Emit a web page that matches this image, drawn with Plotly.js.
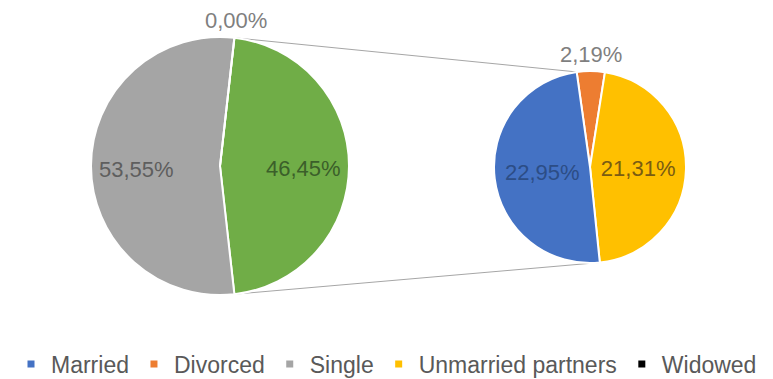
<!DOCTYPE html>
<html>
<head>
<meta charset="utf-8">
<script src="https://cdn.plot.ly/plotly-3.0.1.min.js"></script>
<style>html,body{margin:0;padding:0;background:#fff;}#chart{width:773px;height:379px;}</style>
</head>
<body>
<div id="chart"></div>
<script>
// Data
const mainLabels = ['Other', 'Single', 'Widowed'];
const mainValues = [46.45, 53.55, 0.00];
const subLabels = ['Divorced', 'Unmarried partners', 'Married'];
const subValues = [2.19, 21.31, 22.95];
const legendLabels = ['Married', 'Divorced', 'Single', 'Unmarried partners', 'Widowed'];

// Styles
const colorOf = {
  'Married': '#4472C4', 'Divorced': '#ED7D31', 'Single': '#A5A5A5',
  'Unmarried partners': '#FFC000', 'Widowed': '#000000', 'Other': '#70AD47'
};
const textColorOf = {
  'Married': '#2c4d86', 'Divorced': '#7f7f7f', 'Single': '#5e5e5e',
  'Unmarried partners': '#7a5c12', 'Widowed': '#7f7f7f', 'Other': '#3b5f2a'
};
const FONT = 'Liberation Sans, Arial, sans-serif';
const W = 773, H = 379;
const L = {cx: 220, cy: 166, r: 129};
const R = {cx: 590, cy: 167, r: 96};
const fmt = v => v.toFixed(2).replace('.', ',') + '%';

const mainTotal = mainValues.reduce((a, b) => a + b, 0);
const subTotal = subValues.reduce((a, b) => a + b, 0);
const otherSpan = mainValues[0] / mainTotal * 360;
const rotL = 90 - otherSpan / 2;
const rotR = -8;

function domainOf(p) {
  return {
    x: [(p.cx - p.r) / W, (p.cx + p.r) / W],
    y: [1 - (p.cy + p.r) / H, 1 - (p.cy - p.r) / H]
  };
}
function pt(p, deg, rr) {
  const a = deg * Math.PI / 180;
  return [p.cx + rr * Math.sin(a), p.cy - rr * Math.cos(a)];
}
const toPaper = p => [p[0] / W, 1 - p[1] / H];

const traces = [];
traces.push({
  type: 'pie', labels: mainLabels, values: mainValues, sort: false,
  direction: 'clockwise', rotation: rotL, domain: domainOf(L),
  marker: {colors: mainLabels.map(l => colorOf[l]), line: {color: '#ffffff', width: 2}},
  textinfo: 'none', showlegend: false, hoverinfo: 'label+percent'
});
traces.push({
  type: 'pie', labels: subLabels, values: subValues, sort: false,
  direction: 'clockwise', rotation: rotR, domain: domainOf(R),
  marker: {colors: subLabels.map(l => colorOf[l]), line: {color: '#ffffff', width: 2}},
  text: subValues.map(fmt), textinfo: 'text',
  textposition: subValues.map(v => v / subTotal < 0.1 ? 'none' : 'inside'),
  insidetextorientation: 'horizontal',
  insidetextfont: {family: FONT, size: 22, color: subLabels.map(l => textColorOf[l])},
  showlegend: false, hoverinfo: 'label+text'
});
legendLabels.forEach(l => {
  traces.push({
    type: 'scatter', mode: 'markers', x: [null], y: [null], name: l,
    marker: {symbol: 'square', size: 7, color: colorOf[l]},
    showlegend: true, hoverinfo: 'skip'
  });
});

// connector lines from the "Other" slice to the second pie
const lTop = pt(L, rotL, L.r), lBot = pt(L, rotL + otherSpan, L.r);
const rTop = pt(R, rotR, R.r);
const rBot = pt(R, rotR + (subValues[0] + subValues[1]) / subTotal * 360, R.r);
const shapes = [[lTop, rTop], [lBot, rBot]].map(([a, b]) => {
  const pa = toPaper(a), pb = toPaper(b);
  return {type: 'line', xref: 'paper', yref: 'paper', x0: pa[0], y0: pa[1], x1: pb[0], y1: pb[1],
          line: {color: '#a6a6a6', width: 1}, layer: 'below'};
});

// data labels for the first pie and small slices (positioned along slice bisectors)
const annotations = [];
function addLabels(p, labels, values, total, rot, insideOnly) {
  let start = rot;
  values.forEach((v, i) => {
    const span = v / total * 360;
    const mid = start + span / 2;
    const small = span < 36;
    if (!(insideOnly && !small)) {
      const pos = small ? pt(p, mid, p.r + 17) : pt(p, mid, p.r * 0.65);
      const pp = toPaper([pos[0], pos[1] + (small ? 0 : 3)]);
      annotations.push({xref: 'paper', yref: 'paper', x: pp[0], y: pp[1], text: fmt(v),
        showarrow: false, xanchor: 'center', yanchor: 'middle',
        font: {family: FONT, size: 22, color: small ? '#7f7f7f' : textColorOf[labels[i]]}});
    }
    start += span;
  });
}
addLabels(L, mainLabels, mainValues, mainTotal, rotL, false);
addLabels(R, subLabels, subValues, subTotal, rotR, true);

const layout = {
  width: W, height: H,
  margin: {l: 0, r: 0, t: 0, b: 0, pad: 0, autoexpand: false},
  paper_bgcolor: '#ffffff', plot_bgcolor: '#ffffff',
  xaxis: {visible: false}, yaxis: {visible: false},
  showlegend: true,
  legend: {orientation: 'h', x: 0.5, xanchor: 'center', y: 1 - 364 / H, yanchor: 'middle',
           font: {family: FONT, size: 23, color: '#595959'},
           itemclick: false, itemdoubleclick: false},
  shapes: shapes, annotations: annotations,
  font: {family: FONT}
};
Plotly.newPlot('chart', traces, layout, {displayModeBar: false, staticPlot: true});
</script>
</body>
</html>
